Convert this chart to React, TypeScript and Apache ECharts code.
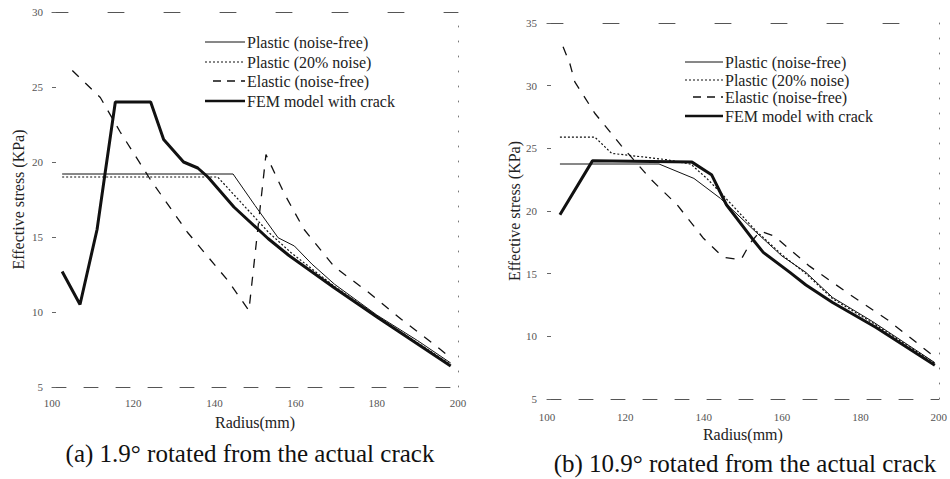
import React, { useEffect, useRef } from "react";
import * as echarts from "echarts";

// ---------- data ----------
const legendNames = [
  "Plastic (noise-free)",
  "Plastic (20% noise)",
  "Elastic (noise-free)",
  "FEM model with crack",
];
const captionA = "(a) 1.9° rotated from the actual crack";
const captionB = "(b) 10.9° rotated from the actual crack";
const xAxisName = "Radius(mm)";
const yAxisName = "Effective stress (KPa)";

// chart (a): [radius (mm), effective stress (KPa)]
const plasticA: number[][] = [
  [102.5, 19.2], [144.6, 19.2], [150, 17.1], [155.7, 14.95], [159.7, 14.4],
  [164, 13.2], [169.6, 11.85], [180, 9.8], [190, 8.1], [198.2, 6.6],
];
const noisyA: number[][] = [
  [102.5, 19.0], [140.8, 19.0], [153.2, 15.35], [158.9, 13.95],
  [169.6, 11.7], [180.4, 9.65], [198.2, 6.5],
];
const elasticA: number[][] = [
  [105, 26.1], [111.9, 24.3], [116.8, 22.0], [124.3, 18.8], [133.4, 15.3],
  [143.3, 12.1], [148.5, 10.1], [152.7, 20.5], [157.2, 17.9], [162.1, 15.5],
  [169.6, 13.0], [178, 11.3], [186.1, 9.5], [194.3, 7.8], [198.2, 6.95],
];
const femA: number[][] = [
  [102.5, 12.7], [106.9, 10.5], [111.1, 15.5], [113.1, 19.3], [115.6, 24.0],
  [124.3, 24.0], [127.5, 21.5], [132.4, 20.0], [135.9, 19.6], [138.4, 19.0],
  [144.8, 17.0], [153.2, 14.9], [158.2, 13.8], [169.6, 11.6], [180.4, 9.6],
  [198.2, 6.4],
];

// chart (b)
const plasticB: number[][] = [
  [103.3, 23.75], [128.6, 23.75], [137.5, 22.6], [144.3, 21.0], [153.4, 18.3],
  [160, 16.4], [166.1, 15.1], [172.9, 13.1], [183, 11.2], [199, 7.9],
];
const noisyB: number[][] = [
  [103.3, 25.9], [112.2, 25.9], [116.5, 24.6], [130.4, 24.1], [136.7, 23.74],
  [140.8, 22.6], [145.1, 21.2], [153.4, 18.4], [160, 16.5], [166.1, 15.0],
  [172.9, 13.0], [183, 11.1], [199, 7.85],
];
const elasticB: number[][] = [
  [104.1, 33.1], [105.8, 31.8], [107.1, 30.3], [112.2, 27.8], [119, 25.2],
  [126.6, 22.5], [133.2, 20.5], [140, 17.8], [145, 16.3], [149.5, 16.1],
  [152, 17.5], [154.5, 18.4], [158, 18.0], [167, 15.6], [177, 13.4],
  [187, 11.3], [199.2, 8.3],
];
const femB: number[][] = [
  [103.3, 19.7], [111.6, 24.0], [137, 23.9], [142, 22.9], [145.8, 20.5],
  [152.5, 17.75], [155.2, 16.7], [162, 15.1], [166.1, 14.1], [172.9, 12.7],
  [184, 10.7], [199, 7.7],
];

const radiusMin = 100;
const radiusMax = 200;
const radiusStep = 20;
const stressMinA = 5;
const stressMaxA = 30;
const stressMinB = 5;
const stressMaxB = 35;
const stressStep = 5;

// ---------- styles ----------
const SERIF = "Liberation Serif";
const INK = "#111";

const lineStyles = [
  { width: 1, type: "solid" as any },
  { width: 1.2, type: [2, 2] as any },
  { width: 1.3, type: [9, 9] as any },
  { width: 3, type: "solid" as any },
];

function xAxes(grid: number, nameGap: number, labelMargin: number) {
  return [
    {
      gridIndex: grid,
      type: "value",
      min: radiusMin,
      max: radiusMax,
      interval: radiusStep,
      axisLine: { show: true, lineStyle: { color: "#555", width: 1, type: [14, 18] } },
      axisTick: { show: false },
      splitLine: { show: false },
      axisLabel: { fontFamily: SERIF, fontSize: 11, color: "#555", margin: labelMargin },
      name: xAxisName,
      nameLocation: "middle",
      nameGap,
      nameTextStyle: { fontFamily: SERIF, fontSize: 16, color: "#222" },
    },
    {
      gridIndex: grid,
      type: "value",
      position: "top",
      min: radiusMin,
      max: radiusMax,
      axisLine: { show: true, lineStyle: { color: "#555", width: 1, type: [16, 40] } },
      axisTick: { show: false },
      axisLabel: { show: false },
      splitLine: { show: false },
    },
  ];
}

function yAxes(grid: number, min: number, max: number, nameGap: number, labelMargin: number) {
  return [
    {
      gridIndex: grid,
      type: "value",
      min,
      max,
      interval: stressStep,
      axisLine: { show: false },
      axisTick: { show: true, inside: true, length: 4, lineStyle: { color: "#666" } },
      splitLine: { show: false },
      axisLabel: { fontFamily: SERIF, fontSize: 11, color: "#555", margin: labelMargin },
      name: yAxisName,
      nameLocation: "middle",
      nameGap,
      nameTextStyle: { fontFamily: SERIF, fontSize: 16, color: "#222" },
    },
    {
      gridIndex: grid,
      type: "value",
      position: "right",
      min,
      max,
      axisLine: { show: true, lineStyle: { color: "#777", width: 1, type: [1, 14] } },
      axisTick: { show: false },
      axisLabel: { show: false },
      splitLine: { show: false },
    },
  ];
}

function makeSeries(data: number[][][], xIdx: number, yIdx: number) {
  return data.map((d, i) => ({
    type: "line",
    name: legendNames[i],
    xAxisIndex: xIdx,
    yAxisIndex: yIdx,
    data: d,
    symbol: "none",
    silent: true,
    lineStyle: { color: INK, width: lineStyles[i].width, type: lineStyles[i].type },
  }));
}

function legendGraphic(x0: number, x1: number, ys: number[]) {
  const els: any[] = [];
  ys.forEach((y, i) => {
    const ls = lineStyles[i];
    const dash = Array.isArray(ls.type) ? (i === 2 ? [8, 6] : ls.type) : null;
    els.push({
      type: "line",
      silent: true,
      shape: { x1: i === 2 ? x0 + 8 : x0, y1: y, x2: x1, y2: y },
      style: { stroke: INK, lineWidth: i === 3 ? 2.5 : ls.width, lineDash: dash },
    });
    els.push({
      type: "text",
      silent: true,
      x: x1 + 2,
      y,
      style: {
        text: legendNames[i],
        fontFamily: SERIF,
        fontSize: 16,
        fill: "#222",
        align: "left",
        verticalAlign: "middle",
      },
    });
  });
  return els;
}

function caption(text: string, x: number, y: number) {
  return {
    type: "text",
    silent: true,
    x,
    y,
    style: {
      text,
      fontFamily: SERIF,
      fontSize: 25,
      fill: "#111",
      align: "center",
      verticalAlign: "middle",
    },
  };
}

export default function App() {
  const ref = useRef<HTMLDivElement>(null);
  useEffect(() => {
    if (!ref.current) return;
    const chart = echarts.init(ref.current, null, { renderer: "svg" });
    const option: any = {
      animation: false,
      backgroundColor: "#ffffff",
      textStyle: { fontFamily: SERIF },
      grid: [
        { left: 52, top: 12, width: 406, height: 375 },
        { left: 547, top: 23, width: 395, height: 376 },
      ],
      xAxis: [...xAxes(0, 27, 10), ...xAxes(1, 24, 12)],
      yAxis: [...yAxes(0, stressMinA, stressMaxA, 26, 9), ...yAxes(1, stressMinB, stressMaxB, 25, 10)],
      series: [
        ...makeSeries([plasticA, noisyA, elasticA, femA], 0, 0),
        ...makeSeries([plasticB, noisyB, elasticB, femB], 2, 2),
      ],
      graphic: [
        ...legendGraphic(205, 245, [42, 62, 81, 101]),
        ...legendGraphic(685, 723, [62, 80, 97, 116]),
        caption(captionA, 250, 453),
        caption(captionB, 745, 463),
      ],
    };
    chart.setOption(option);
    return () => chart.dispose();
  }, []);
  return (
    <div
      ref={ref}
      style={{ position: "fixed", left: 0, top: 0, width: 950, height: 479, background: "#fff" }}
    />
  );
}
